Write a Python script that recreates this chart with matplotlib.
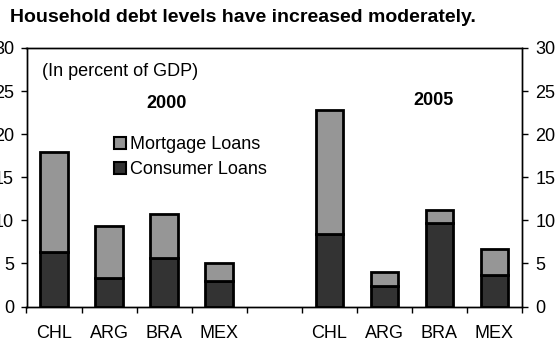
import matplotlib
matplotlib.use("Agg")
import matplotlib.pyplot as plt
import numpy as np

plt.rcParams['font.family'] = ['Liberation Sans', 'DejaVu Sans']

categories = ["CHL", "ARG", "BRA", "MEX", "", "CHL", "ARG", "BRA", "MEX"]
consumer = [6.3, 3.3, 5.6, 3.0, np.nan, 8.4, 2.35, 9.7, 3.6]
total = [17.9, 9.3, 10.7, 5.05, np.nan, 22.8, 4.0, 11.2, 6.7]
mortgage = [t - c for t, c in zip(total, consumer)]
yticks = [0, 5, 10, 15, 20, 25, 30]

FS = 13
fig = plt.figure(figsize=(5.56, 3.52), dpi=100)
ax = fig.add_axes([26.5/556, 45.5/352, 495.5/556, 258.5/352])
x = np.arange(len(categories))
c_cons = "#333333"
c_mort = "#969696"
ax.bar(x, consumer, width=0.5, color=c_cons, edgecolor="black", linewidth=2, label="Consumer Loans", zorder=3)
ax.bar(x, mortgage, width=0.5, bottom=consumer, color=c_mort, edgecolor="black", linewidth=2, label="Mortgage Loans", zorder=3)

ax.set_xlim(-0.5, len(categories) - 0.5)
ax.set_ylim(0, 30)
ax.set_yticks(yticks)
ax.set_xticks(x)
ax.set_xticklabels(categories, fontsize=FS)
ax.set_xticks(np.arange(-0.5, len(categories)), minor=True)
ax.tick_params(axis='x', which='major', length=0, pad=13)
ax.tick_params(axis='x', which='minor', length=4, width=1, direction='out')
ax.tick_params(axis='y', length=4, width=1, direction='out', labelsize=FS, pad=5)
for s in ['left', 'right', 'top', 'bottom']:
    ax.spines[s].set_linewidth(1)
ax2 = ax.twinx()
ax2.set_ylim(0, 30)
ax2.set_yticks(yticks)
ax2.tick_params(axis='y', length=4, width=1, direction='out', labelsize=FS, pad=5.5)
for s in ['left', 'right', 'top', 'bottom']:
    ax2.spines[s].set_linewidth(1)

fig.text(10/556, 1 - 18/352, "Household debt levels have increased moderately.",
         fontsize=14, fontweight='bold', ha='left', va='center')
fig.text(42/556, 1 - 71/352, "(In percent of GDP)", fontsize=FS, ha='left', va='center')
fig.text(167/556, 1 - 103/352, "2000", fontsize=FS, fontweight='bold', ha='center', va='center')
fig.text(433/556, 1 - 100/352, "2005", fontsize=FS, fontweight='bold', ha='center', va='center')

h, l = ax.get_legend_handles_labels()
leg = ax.legend(h[::-1], l[::-1], loc='upper left', bbox_to_anchor=(114/556, 1 - 136/352),
                bbox_transform=fig.transFigure, frameon=False, fontsize=FS,
                handlelength=0.65, handleheight=0.65, handletextpad=0.25, labelspacing=0.45,
                borderaxespad=0, borderpad=0)
for p in leg.get_patches():
    p.set_linewidth(1.5)

fig.savefig("out.png", dpi=100)
